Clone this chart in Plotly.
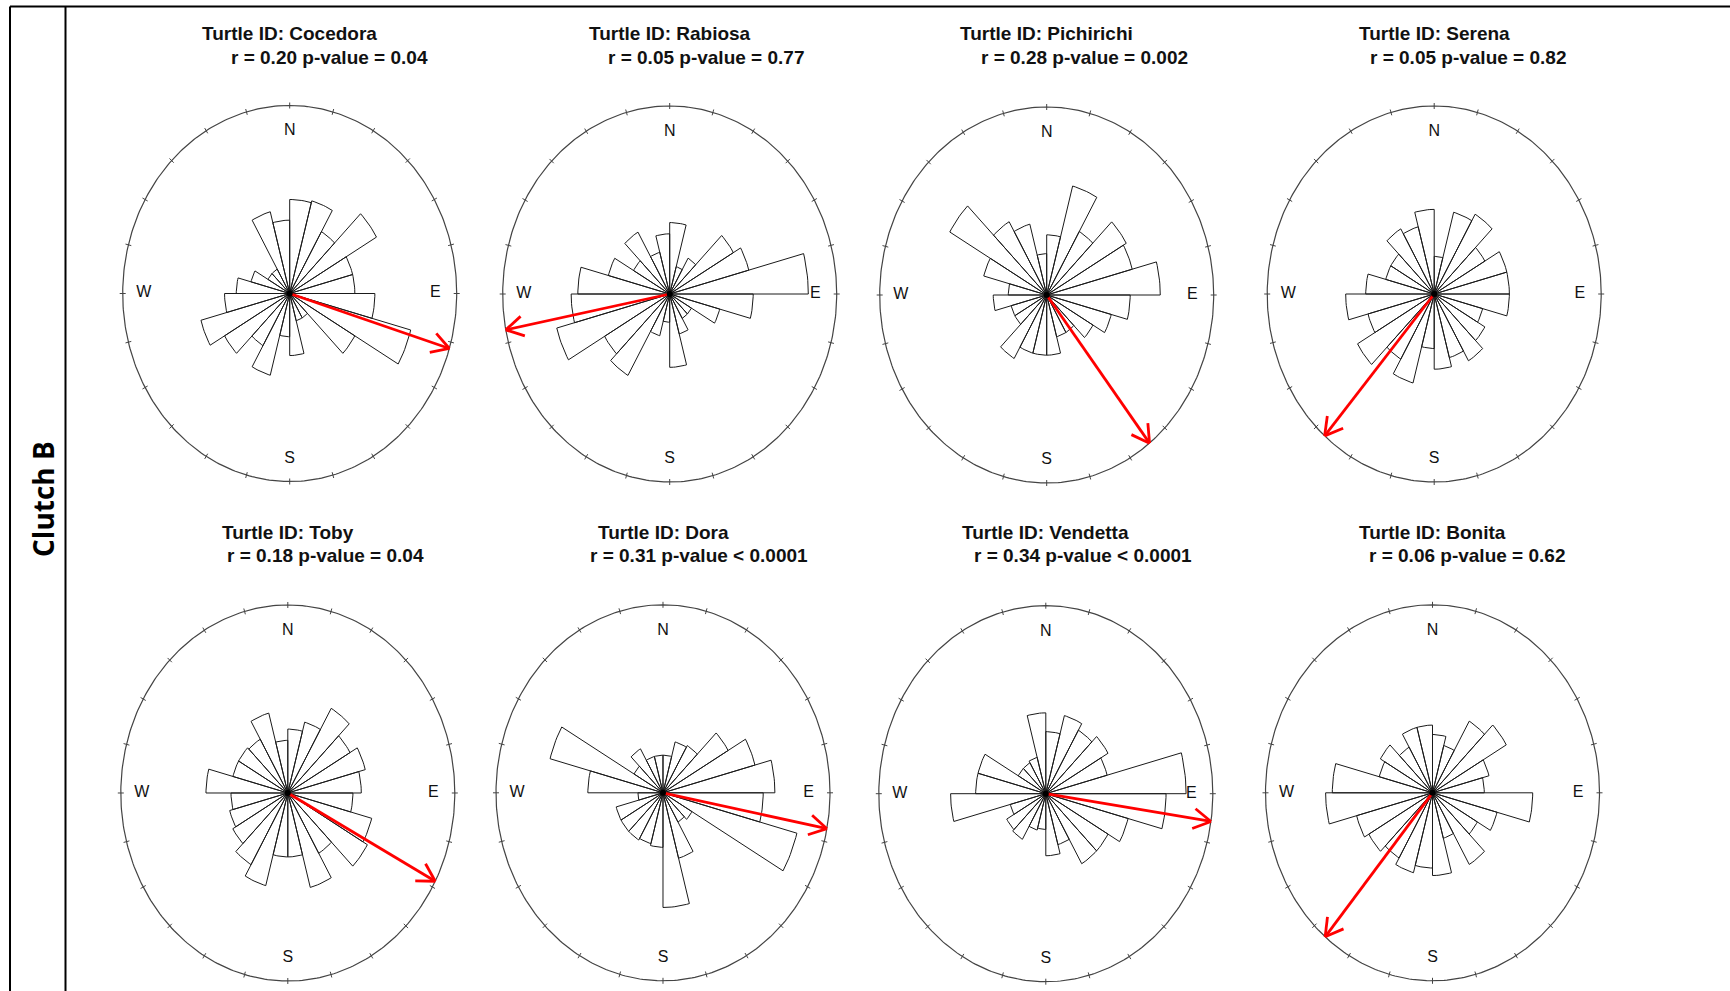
import numpy as np
import plotly.graph_objects as go

W, H = 1730, 991

turtles = ["Cocedora", "Rabiosa", "Pichirichi", "Serena",
           "Toby", "Dora", "Vendetta", "Bonita"]
r_values = ["0.20", "0.05", "0.28", "0.05", "0.18", "0.31", "0.34", "0.06"]
p_values = ["= 0.04", "= 0.77", "= 0.002", "= 0.82",
            "= 0.04", "< 0.0001", "< 0.0001", "= 0.62"]
# mean heading (degrees clockwise from North)
mean_dir = [107, 259, 142, 221, 118, 101, 98.5, 220]

# rose bins: 24 sectors of 15 deg, clockwise from North,
# bar length as a fraction of the outer circle radius
cocedora = [0.50, 0.51, 0.38, 0.60, 0.39, 0.39, 0.51, 0.75, 0.45, 0.15, 0.15, 0.33,
            0.23, 0.45, 0.32, 0.45, 0.55, 0.39, 0.32, 0.24, 0.15, 0.15, 0.45, 0.39]
rabiosa = [0.38, 0.15, 0.22, 0.44, 0.49, 0.83, 0.50, 0.31, 0.15, 0.15, 0.22, 0.39,
           0.15, 0.23, 0.50, 0.45, 0.70, 0.59, 0.55, 0.38, 0.25, 0.38, 0.23, 0.32]
pichirichi = [0.32, 0.60, 0.39, 0.55, 0.53, 0.68, 0.50, 0.40, 0.32, 0.23, 0.23, 0.32,
              0.32, 0.32, 0.39, 0.22, 0.22, 0.32, 0.23, 0.39, 0.67, 0.45, 0.39, 0.22]
serena = [0.20, 0.45, 0.49, 0.35, 0.45, 0.45, 0.45, 0.30, 0.35, 0.41, 0.35, 0.40,
          0.29, 0.49, 0.40, 0.53, 0.41, 0.53, 0.41, 0.30, 0.30, 0.40, 0.37, 0.45]
toby = [0.34, 0.39, 0.52, 0.43, 0.48, 0.44, 0.39, 0.52, 0.55, 0.37, 0.52, 0.34,
        0.34, 0.51, 0.44, 0.38, 0.36, 0.34, 0.49, 0.34, 0.34, 0.33, 0.44, 0.28]
dora = [0.20, 0.28, 0.29, 0.45, 0.57, 0.67, 0.60, 0.83, 0.20, 0.18, 0.36, 0.61,
        0.29, 0.28, 0.29, 0.29, 0.29, 0.15, 0.45, 0.70, 0.20, 0.27, 0.20, 0.20]
vendetta = [0.33, 0.43, 0.39, 0.43, 0.38, 0.84, 0.72, 0.51, 0.43, 0.43, 0.28, 0.33,
            0.19, 0.20, 0.28, 0.27, 0.22, 0.57, 0.42, 0.42, 0.19, 0.19, 0.20, 0.43]
bonita = [0.31, 0.26, 0.44, 0.51, 0.35, 0.31, 0.60, 0.40, 0.31, 0.44, 0.25, 0.44,
          0.40, 0.44, 0.40, 0.44, 0.47, 0.64, 0.60, 0.33, 0.36, 0.28, 0.36, 0.36]
bins = [cocedora, rabiosa, pichirichi, serena, toby, dora, vendetta, bonita]

compass = ["N", "E", "S", "W"]

# ---- page layout (pixels) ----
centers = [(289.7, 293.5), (669.7, 294.0), (1046.7, 295.0), (1434.2, 294.0),
           (287.8, 793.0), (663.0, 792.8), (1045.8, 793.7), (1432.5, 792.8)]
RX, RY = 167.0, 188.0          # ellipse half-axes in px
PADX, PADY = 1.10, 1.04
title1_y = [34, 34, 34, 34, 532, 532, 532, 532]
title2_y = [57, 57, 57, 57, 555, 555, 555, 555]
title2_x = [229, 606, 979, 1368, 225, 588, 972, 1367]

BIN_W = 15.0
TITLE_FONT = dict(family="Liberation Sans, Arial", size=19, color="#111")

fig = go.Figure()
layout = dict(width=W, height=H, margin=dict(l=0, r=0, t=0, b=0),
              paper_bgcolor="white", plot_bgcolor="white", showlegend=False)

annotations = []
for i, name in enumerate(turtles):
    sfx = "" if i == 0 else str(i + 1)
    cx, cy = centers[i]
    layout[f"xaxis{sfx}"] = dict(domain=[(cx - PADX * RX) / W, (cx + PADX * RX) / W],
                                 range=[-PADX, PADX], visible=False, fixedrange=True,
                                 anchor=f"y{sfx}")
    layout[f"yaxis{sfx}"] = dict(domain=[1 - (cy + PADY * RY) / H, 1 - (cy - PADY * RY) / H],
                                 range=[-PADY, PADY], visible=False, fixedrange=True,
                                 anchor=f"x{sfx}")
    axes = dict(xaxis=f"x{sfx}", yaxis=f"y{sfx}")

    # rose wedges
    wx, wy = [], []
    for k, r in enumerate(bins[i]):
        a = np.radians(np.linspace(k * BIN_W, (k + 1) * BIN_W, 10))
        wx += [0.0] + list(r * np.sin(a)) + [0.0, None]
        wy += [0.0] + list(r * np.cos(a)) + [0.0, None]
    fig.add_trace(go.Scatter(x=wx, y=wy, mode="lines", fill="toself",
                             fillcolor="white", line=dict(color="#1a1a1a", width=1),
                             hoverinfo="skip", **axes))

    # outer circle
    t = np.radians(np.linspace(0, 360, 361))
    fig.add_trace(go.Scatter(x=np.sin(t), y=np.cos(t), mode="lines",
                             line=dict(color="#444444", width=1.2),
                             hoverinfo="skip", **axes))

    # tick marks every 15 deg
    tx, ty = [], []
    for k in range(24):
        a = np.radians(k * BIN_W)
        dx, dy = np.sin(a), np.cos(a)
        # +-3 px across the circle
        ox = 3.0 / RX * dx
        oy = 3.0 / RY * dy
        tx += [dx - ox, dx + ox, None]
        ty += [dy - oy, dy + oy, None]
    fig.add_trace(go.Scatter(x=tx, y=ty, mode="lines",
                             line=dict(color="#444444", width=1),
                             hoverinfo="skip", **axes))

    # compass letters
    fig.add_trace(go.Scatter(x=[0, 0.872, 0, -0.874], y=[0.862, 0, -0.880, 0],
                             mode="text", text=compass,
                             textfont=dict(family="Liberation Sans, Arial", size=16,
                                           color="#111"),
                             hoverinfo="skip", **axes))

    # mean direction arrow
    th = np.radians(mean_dir[i])
    ex, ey = np.sin(th), np.cos(th)
    fig.add_trace(go.Scatter(x=[0, ex], y=[0, ey], mode="lines",
                             line=dict(color="#ff0000", width=2.8),
                             hoverinfo="skip", **axes))
    # open arrow head, built in pixel space then mapped back to data units
    ux, uy = ex * RX, ey * RY
    n = np.hypot(ux, uy)
    ux, uy = ux / n, uy / n
    hx, hy = [], []
    for s in (1, -1):
        ang = np.radians(30) * s
        bx = -(ux * np.cos(ang) - uy * np.sin(ang)) * 20
        by = -(ux * np.sin(ang) + uy * np.cos(ang)) * 20
        hx += [ex + bx / RX, ex, None]
        hy += [ey + by / RY, ey, None]
    fig.add_trace(go.Scatter(x=hx, y=hy, mode="lines",
                             line=dict(color="#ff0000", width=2.8),
                             hoverinfo="skip", **axes))

    # hub
    fig.add_trace(go.Scatter(x=[0], y=[0], mode="markers",
                             marker=dict(color="black", size=6),
                             hoverinfo="skip", **axes))

    # titles
    annotations.append(dict(text=f"<b>Turtle ID: {name}</b>", x=cx / W,
                            y=1 - title1_y[i] / H, xref="paper", yref="paper",
                            xanchor="center", yanchor="middle", showarrow=False,
                            font=TITLE_FONT))
    annotations.append(dict(text=f"<b>r = {r_values[i]} p-value {p_values[i]}</b>",
                            x=title2_x[i] / W, y=1 - title2_y[i] / H,
                            xref="paper", yref="paper", xanchor="left", yanchor="middle",
                            showarrow=False, font=TITLE_FONT))

annotations.append(dict(text="<b>Clutch B</b>", textangle=-90, x=43 / W, y=1 - 499 / H,
                        xref="paper", yref="paper", xanchor="center", yanchor="middle",
                        showarrow=False,
                        font=dict(family="Open Sans", size=28, color="black")))

top = 1 - 6.5 / H
shapes = [
    dict(type="line", xref="paper", yref="paper", x0=10 / W, x1=1, y0=top, y1=top,
         line=dict(color="black", width=2)),
    dict(type="line", xref="paper", yref="paper", x0=10 / W, x1=10 / W, y0=0, y1=top,
         line=dict(color="black", width=2)),
    dict(type="line", xref="paper", yref="paper", x0=65.5 / W, x1=65.5 / W, y0=0, y1=top,
         line=dict(color="black", width=2)),
]
layout["annotations"] = annotations
layout["shapes"] = shapes
fig.update_layout(**layout)

fig.write_html("out.html")
